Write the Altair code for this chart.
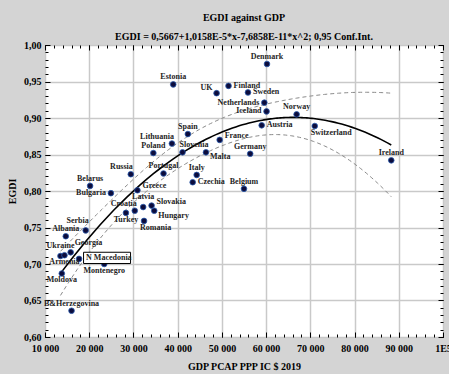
import altair as alt
import numpy as np
import pandas as pd

# ---------------- data ----------------
countries = ["Denmark", "Estonia", "UK", "Finland", "Sweden", "Netherlands", "Iceland",
             "Norway", "Austria", "Switzerland", "Ireland", "Spain", "Lithuania", "France",
             "Slovenia", "Malta", "Germany", "Poland", "Russia", "Portugal", "Italy",
             "Czechia", "Belgium", "Greece", "Bulgaria", "Belarus", "Latvia", "Slovakia",
             "Hungary", "Croatia", "Turkey", "Romania", "Serbia", "Albania", "Ukraine",
             "Armenia", "Georgia", "N Macedonia", "Montenegro", "Moldova", "B&Herzegovina"]
gdp = [60200, 39000, 48800, 51500, 55900, 59600, 60100,
       66900, 59000, 71000, 88300, 42300, 38700, 49500,
       41100, 46400, 56400, 34500, 29400, 36800, 44300,
       43400, 55000, 30900, 24900, 20200, 32200, 34100,
       34700, 30300, 28300, 32400, 19200, 14700, 13500,
       14400, 15800, 17700, 23400, 13800, 16000]
egdi = [0.974, 0.946, 0.934, 0.944, 0.935, 0.921, 0.909,
        0.905, 0.890, 0.889, 0.842, 0.878, 0.865, 0.870,
        0.853, 0.853, 0.851, 0.852, 0.823, 0.824, 0.822,
        0.812, 0.803, 0.801, 0.797, 0.807, 0.778, 0.780,
        0.773, 0.773, 0.770, 0.759, 0.746, 0.738, 0.711,
        0.712, 0.716, 0.707, 0.700, 0.687, 0.636]

x_ticks = [10000, 20000, 30000, 40000, 50000, 60000, 70000, 80000, 90000, 100000]
y_ticks = [0.60, 0.65, 0.70, 0.75, 0.80, 0.85, 0.90, 0.95, 1.00]
x_minor = list(range(10000, 100001, 2000))
y_minor = [round(0.60 + 0.01 * i, 2) for i in range(41)]

title_text = "EGDI against GDP"
subtitle_text = "EGDI = 0,5667+1,0158E-5*x-7,6858E-11*x^2; 0,95 Conf.Int."
x_title = "GDP PCAP PPP IC $ 2019"
y_title = "EGDI"

# ---------------- label placement (style) ----------------
placement = {
    "Denmark": "above", "Estonia": "above", "UK": "left_up", "Finland": "right",
    "Sweden": "right", "Netherlands": "left", "Iceland": "left", "Norway": "above",
    "Austria": "right", "Switzerland": "below_right", "Ireland": "above", "Spain": "above",
    "Lithuania": "above_left", "France": "right_up", "Slovenia": "above_right",
    "Malta": "right_down", "Germany": "above", "Poland": "above", "Russia": "above_left",
    "Portugal": "above", "Italy": "above", "Czechia": "right", "Belgium": "above",
    "Greece": "right_up", "Bulgaria": "left", "Belarus": "above", "Latvia": "above_hi",
    "Slovakia": "right_up", "Hungary": "right_down", "Croatia": "above_left",
    "Turkey": "below", "Romania": "below_right", "Serbia": "above_left_hi", "Albania": "above",
    "Ukraine": "above_hi", "Armenia": "below", "Georgia": "up_right",
    "N Macedonia": "right_box", "Montenegro": "below", "Moldova": "below",
    "B&Herzegovina": "above",
}
label_style = {
    "above": ("center", 0, -7),
    "above_hi": ("center", 0, -10),
    "above_left": ("right", 2, -7),
    "above_left_hi": ("right", 3, -9),
    "above_right": ("left", -3, -7),
    "up_right": ("left", 4, -9),
    "left": ("right", -5, 0),
    "left_up": ("right", -4, -5),
    "right": ("left", 5, 0),
    "right_box": ("left", 7, -1),
    "right_up": ("left", 5, -4),
    "right_down": ("left", 4, 5),
    "below": ("center", 0, 7),
    "below_right": ("left", -4, 7),
}

df = pd.DataFrame({"country": countries, "gdp": gdp, "egdi": egdi})
df["place"] = df["country"].map(placement)

# ---------------- quadratic fit + 95% confidence band ----------------
xs = np.array(gdp, dtype=float) / 1e4
ys = np.array(egdi, dtype=float)
X = np.column_stack([np.ones_like(xs), xs, xs ** 2])
beta, *_ = np.linalg.lstsq(X, ys, rcond=None)
resid = ys - X @ beta
n = len(ys)
s2 = resid @ resid / (n - 3)
cov = s2 * np.linalg.inv(X.T @ X)
t_crit = 2.024
grid = np.linspace(xs.min(), xs.max(), 120)
G = np.column_stack([np.ones_like(grid), grid, grid ** 2])
fit = G @ beta
se = np.sqrt(np.einsum("ij,jk,ik->i", G, cov, G))
band = pd.DataFrame({"gdp": grid * 1e4, "fit": fit,
                     "lo": fit - t_crit * se, "hi": fit + t_crit * se})

# ---------------- chart ----------------
W, H = 398, 292
FONT = "Liberation Serif"
xscale = alt.Scale(domain=[10000, 100000], nice=False, zero=False)
yscale = alt.Scale(domain=[0.60, 1.00], nice=False, zero=False)

x_main = alt.Axis(values=x_ticks, grid=True, gridColor="#c9c9c9", gridWidth=1.5,
                  ticks=False, domain=False, labelFlush=False, labelOverlap=False,
                  labelExpr="datum.value >= 100000 ? '1E5' : replace(format(datum.value, ','), ',', ' ')",
                  labelFont=FONT, labelFontSize=10, labelFontWeight="bold", labelColor="black",
                  labelPadding=6, title=x_title, titleFont=FONT, titleFontSize=10,
                  titleFontWeight="bold", titleColor="black", titlePadding=8)
y_main = alt.Axis(values=y_ticks, grid=True, gridColor="#c9c9c9", gridWidth=1.5,
                  ticks=False, domain=False, labelFlush=False, labelOverlap=False,
                  labelExpr="replace(format(datum.value, '.2f'), '.', ',')",
                  labelFont=FONT, labelFontSize=10, labelFontWeight="bold", labelColor="black",
                  labelPadding=4, title=y_title, titleFont=FONT, titleFontSize=10,
                  titleFontWeight="bold", titleColor="black", titlePadding=6)


def tick_axis(orient, offset, values, size):
    return alt.Axis(orient=orient, offset=offset, values=values, labels=False, domain=False,
                    grid=False, ticks=True, tickColor="black", tickWidth=1, tickSize=size,
                    title=None)


def tick_layer(xo, yo, xv, yv, size):
    return alt.Chart(df).mark_point(opacity=0).encode(
        x=alt.X("gdp:Q", scale=xscale, axis=tick_axis(xo, -H, xv, size)),
        y=alt.Y("egdi:Q", scale=yscale, axis=tick_axis(yo, -W, yv, size)),
    )


base_band = alt.Chart(band)
upper = base_band.mark_line(color="#8a8a8a", strokeWidth=1, strokeDash=[4, 3]).encode(
    x=alt.X("gdp:Q", scale=xscale, axis=None), y=alt.Y("hi:Q", scale=yscale, axis=None))
lower = base_band.mark_line(color="#8a8a8a", strokeWidth=1, strokeDash=[4, 3]).encode(
    x=alt.X("gdp:Q", scale=xscale, axis=None), y=alt.Y("lo:Q", scale=yscale, axis=None))
fitline = alt.Chart(df).transform_regression(
    "gdp", "egdi", method="poly", order=2, extent=[min(gdp), max(gdp)]
).mark_line(color="black", strokeWidth=1.6).encode(
    x=alt.X("gdp:Q", scale=xscale, axis=None), y=alt.Y("egdi:Q", scale=yscale, axis=None))

points = alt.Chart(df).mark_point(filled=True, size=32, fill="#0c0c3c", stroke="#2a5cb0",
                                  strokeWidth=0.8, opacity=1).encode(
    x=alt.X("gdp:Q", scale=xscale, axis=x_main),
    y=alt.Y("egdi:Q", scale=yscale, axis=y_main),
)

box = alt.Chart(df).transform_filter(alt.datum.place == "right_box").mark_point(
    shape="M-1,-0.24H1V0.24H-1Z", size=2209, filled=True, fill="white", stroke="black",
    strokeWidth=1, opacity=1, xOffset=28, yOffset=-1).encode(
    x=alt.X("gdp:Q", scale=xscale, axis=None), y=alt.Y("egdi:Q", scale=yscale, axis=None))

text_layers = []
for code, (align, dx, dy) in label_style.items():
    text_layers.append(
        alt.Chart(df).transform_filter(alt.datum.place == code).mark_text(
            align=align, baseline="middle", dx=dx, dy=dy, font=FONT, fontSize=8,
            fontWeight="bold", color="#1e1e1e").encode(
            x=alt.X("gdp:Q", scale=xscale, axis=None),
            y=alt.Y("egdi:Q", scale=yscale, axis=None),
            text="country:N")
    )

ticks = [
    tick_layer("top", "right", x_ticks, y_ticks, 5),
    tick_layer("top", "right", x_minor, y_minor, 3),
    tick_layer("bottom", "left", x_ticks, y_ticks, 5),
    tick_layer("bottom", "left", x_minor, y_minor, 3),
]

chart = alt.layer(
    *ticks, upper, lower, fitline, points, box, *text_layers
).resolve_axis(x="independent", y="independent").properties(
    width=W, height=H,
    title=alt.TitleParams(text=title_text, subtitle=subtitle_text, anchor="middle",
                          font=FONT, fontSize=10, fontWeight="bold", color="black",
                          subtitleFont=FONT, subtitleFontSize=10, subtitleFontWeight="bold",
                          subtitleColor="black", subtitlePadding=9, offset=-2),
    autosize=alt.AutoSizeParams(type="none"),
    padding={"left": 45, "top": 45, "right": 6, "bottom": 37},
    background="#d4d4d4",
).configure_view(fill="white", stroke="black", strokeWidth=1)

chart.save("out.html", embed_options={"renderer": "svg", "actions": False})
